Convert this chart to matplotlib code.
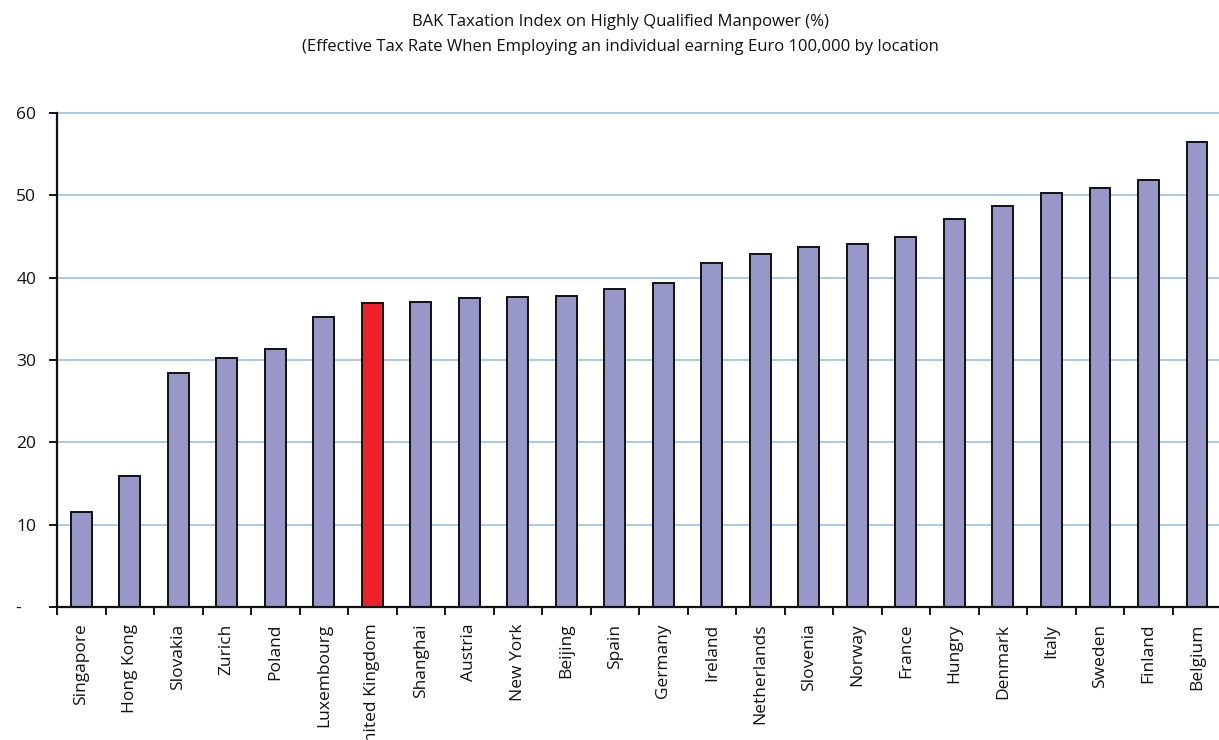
import matplotlib
matplotlib.use("Agg")
import matplotlib.pyplot as plt
import matplotlib.transforms as mtransforms
import numpy as np

plt.rcParams['font.family'] = ['Open Sans', 'DejaVu Sans']

locations = ["Singapore", "Hong Kong", "Slovakia", "Zurich", "Poland", "Luxembourg",
             "United Kingdom", "Shanghai", "Austria", "New York", "Beijing", "Spain",
             "Germany", "Ireland", "Netherlands", "Slovenia", "Norway", "France",
             "Hungry", "Denmark", "Italy", "Sweden", "Finland", "Belgium"]
tax_rate = [11.5, 15.9, 28.4, 30.2, 31.3, 35.2, 36.9, 37.1, 37.5, 37.7, 37.8, 38.6,
            39.4, 41.8, 42.9, 43.7, 44.1, 44.9, 47.1, 48.7, 50.3, 50.9, 51.9, 56.5]
highlight = "United Kingdom"
y_ticks = [0, 10, 20, 30, 40, 50, 60]
y_ticklabels = ["-", "10", "20", "30", "40", "50", "60"]

bar_color = "#9797c9"
highlight_color = "#ee2128"
grid_color = "#a9c9e6"

fig = plt.figure(figsize=(12.19, 7.40), dpi=100)
ax = fig.add_axes([0.0468, 0.1797, 0.955, 0.6676])

x = np.arange(len(locations))
colors = [highlight_color if loc == highlight else bar_color for loc in locations]
ax.bar(x, tax_rate, width=0.43, color=colors, edgecolor="#111111", linewidth=1.4, zorder=3)

ax.set_xlim(-0.5, len(locations) - 0.5)
ax.set_ylim(0, 60)

ax.set_yticks(y_ticks)
ax.set_yticklabels(y_ticklabels, fontsize=12.5, color="#111111")
ax.tick_params(axis="y", direction="out", length=6, width=1.3, pad=9)
for val in y_ticks[1:]:
    ax.axhline(val, color=grid_color, linewidth=1.4, zorder=1, clip_on=False)

# push the zero label further left
zero_lbl = ax.get_yticklabels()[0]
zero_lbl.set_transform(zero_lbl.get_transform() +
                       mtransforms.ScaledTranslation(-0.15, 0, fig.dpi_scale_trans))

ax.set_xticks(x)
ax.set_xticklabels(locations, rotation=90, fontsize=12.5, color="#111111")
ax.tick_params(axis="x", which="major", length=0, pad=12)
ax.set_xticks(np.arange(len(locations) + 1) - 0.5, minor=True)
ax.tick_params(axis="x", which="minor", direction="out", length=6, width=1.3)

for side in ["top", "right"]:
    ax.spines[side].set_visible(False)
for side in ["left", "bottom"]:
    ax.spines[side].set_linewidth(1.6)
    ax.spines[side].set_color("#111111")
    ax.spines[side].set_zorder(4)

fig.text(0.5086, 0.970, "BAK Taxation Index on Highly Qualified Manpower (%)",
         ha="center", va="center", fontsize=12, color="#111111")
fig.text(0.5086, 0.937, "(Effective Tax Rate When Employing an individual earning Euro 100,000 by location",
         ha="center", va="center", fontsize=12, color="#111111")

fig.savefig("out.png", dpi=100)
